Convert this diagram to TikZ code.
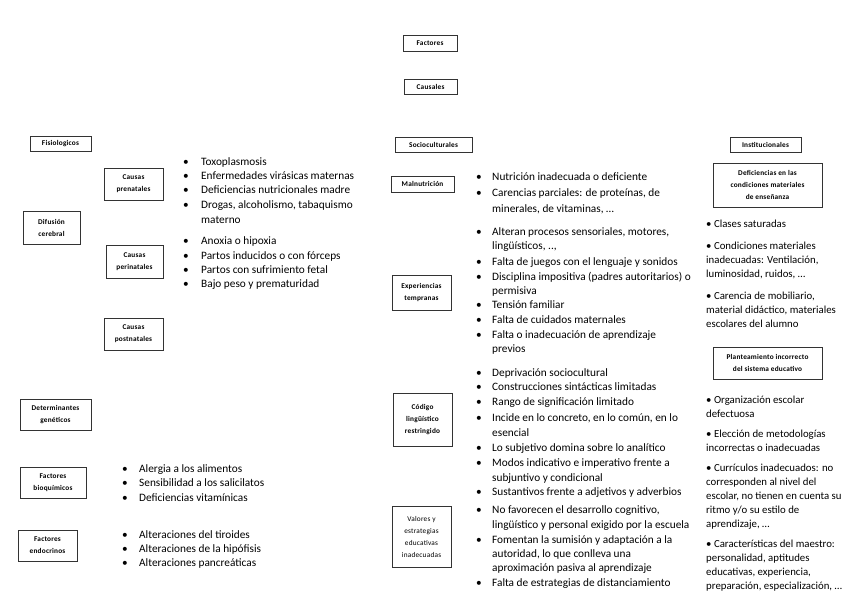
\documentclass[tikz,border=0pt]{standalone}
\usepackage{fontspec}
\setmainfont{Carlito}
\newfontfamily\boxfont[LetterSpace=3]{Carlito}
\usetikzlibrary{shadows}
\newcommand\Bx[7][bxb]{\node[#1, minimum width={(#5-#3)*1pt}, minimum height={(#6-#4)*1pt}] (#2) at ({(#3+#5)/2},{(#4+#6)/2}) {#7};}
\newcommand\Bl[4]{\node[tx] at (#1,#3+3.5) {•}; \node[tx] at (#2,#3+3.5) {#4};}
\newcommand\Ln[3]{\node[tx] at (#1,#2+3.5) {#3};}
\newcommand\Rn[3]{\node[rtx] at (#1,#2+3.5) {#3};}
\begin{document}
\begin{tikzpicture}[x=1pt,y=-1pt,
 bx/.style={draw=black!80, line width=0.7pt, fill=white, inner sep=0pt, align=center,
   font=\boxfont\fontsize{7.3}{12}\selectfont,
   drop shadow={shadow xshift=0.8pt, shadow yshift=-0.8pt, fill=black!60, opacity=1}},
 bxb/.style={bx, font=\boxfont\bfseries\fontsize{7.3}{12}\selectfont},
 tx/.style={anchor=base west, inner sep=0pt, font=\fontsize{11.3}{13}\selectfont},
 rtx/.style={anchor=base west, inner sep=0pt, font=\fontsize{10.8}{13}\selectfont}]
\fill[white] (0,0) rectangle (848,600);
\useasboundingbox (0,0) rectangle (848,600);

% boxes
\Bx{fac}{403}{35}{457}{51}{Factores}
\Bx{cau}{404}{79}{457}{94}{Causales}
\Bx{fis}{30}{136}{91}{151}{Fisiologicos}
\Bx{soc}{395}{137}{472}{152}{Socioculturales}
\Bx{ins}{730}{137}{801}{152}{Institucionales}
\Bx{pre}{104}{168}{163}{200}{Causas\\prenatales}
\Bx{dif}{23}{211}{80}{244}{Difusión\\cerebral}
\Bx{per}{106}{245}{163}{278}{Causas\\perinatales}
\Bx{pos}{104}{318}{163}{350}{Causas\\postnatales}
\Bx{gen}{20}{399}{91}{430}{Determinantes\\genéticos}
\Bx{bio}{20}{467}{86}{498}{Factores\\bioquímicos}
\Bx{end}{18}{530}{77}{561}{Factores\\endocrinos}
\Bx{mal}{391}{176}{454}{192}{Malnutrición}
\Bx{exp}{392}{275}{451}{310}{Experiencias\\tempranas}
\Bx{cod}{393}{393}{452}{446}{Código\\lingüístico\\restringido}
\Bx[bx]{val}{392}{506}{451}{567}{Valores y\\estrategias\\educativas\\inadecuadas}
\Bx{def}{713}{163}{822}{207}{Deficiencias en las\\condiciones materiales\\de enseñanza}
\Bx{pla}{713}{347}{822}{379}{Planteamiento incorrecto\\del sistema educativo}

% left lists
\Bl{183}{201}{162}{Toxoplasmosis}
\Bl{183}{201}{176}{Enfermedades virásicas maternas}
\Bl{183}{201}{190}{Deficiencias nutricionales madre}
\Bl{183}{201}{205}{Drogas, alcoholismo, tabaquismo}
\Ln{201}{220}{materno}
\Bl{183}{201}{241}{Anoxia o hipoxia}
\Bl{183}{201}{256}{Partos inducidos o con fórceps}
\Bl{183}{201}{270}{Partos con sufrimiento fetal}
\Bl{183}{201}{284}{Bajo peso y prematuridad}

\Bl{122}{139}{469}{Alergia a los alimentos}
\Bl{122}{139}{483}{Sensibilidad a los salicilatos}
\Bl{122}{139}{498}{Deficiencias vitamínicas}
\Bl{122}{139}{535}{Alteraciones del tiroides}
\Bl{122}{139}{549}{Alteraciones de la hipófisis}
\Bl{122}{139}{563}{Alteraciones pancreáticas}

% middle lists
\Bl{476}{492}{177}{Nutrición inadecuada o deficiente}
\Bl{476}{492}{193}{Carencias parciales: de proteínas, de}
\Ln{492}{209}{minerales, de vitaminas, …}
\Bl{476}{492}{232}{Alteran procesos sensoriales, motores,}
\Ln{492}{246}{lingüísticos, ..,}
\Bl{476}{492}{262}{Falta de juegos con el lenguaje y sonidos}
\Bl{476}{492}{277}{Disciplina impositiva (padres autoritarios) o}
\Ln{492}{291}{permisiva}
\Bl{476}{492}{305}{Tensión familiar}
\Bl{476}{492}{320}{Falta de cuidados maternales}
\Bl{476}{492}{335}{Falta o inadecuación de aprendizaje}
\Ln{492}{349}{previos}
\Bl{476}{492}{373}{Deprivación sociocultural}
\Bl{476}{492}{387}{Construcciones sintácticas limitadas}
\Bl{476}{492}{402}{Rango de significación limitado}
\Bl{476}{492}{418}{Incide en lo concreto, en lo común, en lo}
\Ln{492}{433}{esencial}
\Bl{476}{492}{448}{Lo subjetivo domina sobre lo analítico}
\Bl{476}{492}{463}{Modos indicativo e imperativo frente a}
\Ln{492}{478}{subjuntivo y condicional}
\Bl{476}{492}{492}{Sustantivos frente a adjetivos y adverbios}
\Bl{476}{492}{510}{No favorecen el desarrollo cognitivo,}
\Ln{492}{525}{lingüístico y personal exigido por la escuela}
\Bl{476}{492}{540}{Fomentan la sumisión y adaptación a la}
\Ln{492}{554}{autoridad, lo que conlleva una}
\Ln{492}{568}{aproximación pasiva al aprendizaje}
\Bl{476}{492}{583}{Falta de estrategias de distanciamiento}

% right lists
\Rn{706}{224}{• Clases saturadas}
\Rn{706}{246}{• Condiciones materiales}
\Rn{706}{260}{inadecuadas: Ventilación,}
\Rn{706}{274}{luminosidad, ruidos, …}
\Rn{706}{296}{• Carencia de mobiliario,}
\Rn{706}{310}{material didáctico, materiales}
\Rn{706}{324}{escolares del alumno}
\Rn{706}{400}{• Organización escolar}
\Rn{706}{414}{defectuosa}
\Rn{706}{434}{• Elección de metodologías}
\Rn{706}{448}{incorrectas o inadecuadas}
\Rn{706}{468}{• Currículos inadecuados: no}
\Rn{706}{482}{corresponden al nivel del}
\Rn{706}{496}{escolar, no tienen en cuenta su}
\Rn{706}{510}{ritmo y/o su estilo de}
\Rn{706}{524}{aprendizaje, …}
\Rn{706}{544}{• Características del maestro:}
\Rn{706}{558}{personalidad, aptitudes}
\Rn{706}{572}{educativas, experiencia,}
\Rn{706}{586}{preparación, especialización, …}
\end{tikzpicture}
\end{document}
